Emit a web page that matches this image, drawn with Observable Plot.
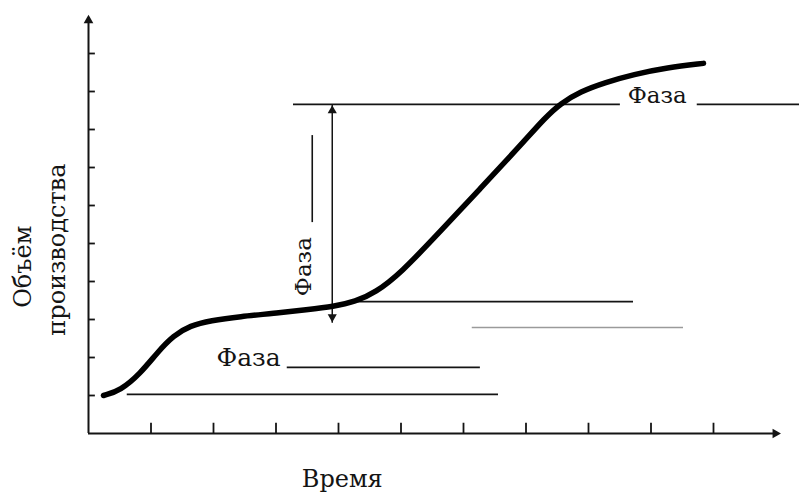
<!DOCTYPE html>
<html>
<head>
<meta charset="utf-8">
<script src="https://cdn.jsdelivr.net/npm/d3@7"></script>
<script src="https://cdn.jsdelivr.net/npm/@observablehq/plot@0.6"></script>
<style>
  html, body { margin: 0; padding: 0; background: #ffffff; }
  #chart svg { display: block; }
</style>
</head>
<body>
<div id="chart"></div>
<script>
// ---- data ----
const curveTime   = [0.24, 0.51, 0.83, 1.10, 1.36, 1.63, 1.95, 2.43, 2.96, 3.50, 3.92, 4.27, 4.59, 4.99, 5.63, 6.27, 6.91, 7.31, 7.55, 7.87, 8.27, 8.72, 9.26, 9.84];
const curveVolume = [1.00, 1.13, 1.58, 2.13, 2.58, 2.84, 2.97, 3.08, 3.16, 3.26, 3.34, 3.47, 3.71, 4.21, 5.32, 6.45, 7.58, 8.32, 8.68, 9.00, 9.24, 9.45, 9.63, 9.74];

// phase guide lines: level, start, end
const phaseLevel = [8.66, 8.66, 3.47, 1.74, 1.03];
const phaseStart = [3.28, 9.74, 4.27, 3.18, 0.62];
const phaseEnd   = [8.51, 11.38, 8.72, 6.27, 6.56];
const grayLevel = [2.79];
const grayStart = [6.14];
const grayEnd   = [9.52];

const xTicks = [1, 2, 3, 4, 5, 6, 7, 8, 9, 10];
const yTicks = [1, 2, 3, 4, 5, 6, 7, 8, 9, 10];

const phaseLabel = "Фаза";
const yLabelLines = ["Объём", "производства"];
const xLabel = "Время";

// ---- tables built from arrays ----
const curve = curveTime.map((t, i) => ({t, v: curveVolume[i]}));
const phases = phaseLevel.map((y, i) => ({y, x1: phaseStart[i], x2: phaseEnd[i]}));
const grays = grayLevel.map((y, i) => ({y, x1: grayStart[i], x2: grayEnd[i]}));

// annotation placement (data units)
const arrowX = 3.90, arrowTop = 8.66, arrowBottom = 2.90;
const ink = "#141414";
const font = "'DejaVu Serif', 'Liberation Serif', serif";

const chart = Plot.plot({
  width: 799,
  height: 493,
  margin: 0,
  style: {background: "#ffffff", fontFamily: font, overflow: "visible"},
  x: {domain: [0, 11], range: [88, 88 + 11 * 62.5], axis: null},
  y: {domain: [0, 11], range: [433, 433 - 11 * 38], axis: null},
  marks: [
    // axes lines
    Plot.ruleY([0], {x1: 0, x2: 10.98, stroke: ink, strokeWidth: 2}),
    Plot.ruleX([0], {y1: 0, y2: 10.9, stroke: ink, strokeWidth: 2}),
    Plot.dot([{x: 10.99, y: 0}], {x: "x", y: "y", symbol: "triangle", r: 3.6, rotate: 90, fill: ink, stroke: "none"}),
    Plot.dot([{x: 0, y: 10.87}], {x: "x", y: "y", symbol: "triangle", r: 3.6, fill: ink, stroke: "none"}),
    // ticks
    Plot.ruleX(xTicks, {x: d => d, y1: 0, y2: 0.27, stroke: ink, strokeWidth: 1.8}),
    Plot.ruleY(yTicks, {y: d => d, x1: 0, x2: 0.11, stroke: ink, strokeWidth: 1.8}),
    // phase guide lines
    Plot.ruleY(phases, {y: "y", x1: "x1", x2: "x2", stroke: ink, strokeWidth: 1.6}),
    Plot.ruleY(grays, {y: "y", x1: "x1", x2: "x2", stroke: "#9a9a9a", strokeWidth: 1.3}),
    // double arrow
    Plot.ruleX([arrowX], {y1: arrowTop, y2: arrowBottom, stroke: ink, strokeWidth: 1.5}),
    Plot.dot([{x: arrowX, y: 8.50}], {x: "x", y: "y", symbol: "triangle", r: 3.4, fill: ink, stroke: "none"}),
    Plot.dot([{x: arrowX, y: 3.07}], {x: "x", y: "y", symbol: "triangle", r: 3.4, rotate: 180, fill: ink, stroke: "none"}),
    // rotated phase label dash
    Plot.ruleX([3.58], {y1: 7.84, y2: 5.55, stroke: ink, strokeWidth: 1.6}),
    // growth curve
    Plot.line(curve, {x: "t", y: "v", curve: "basis", stroke: "#000", strokeWidth: 5.5, strokeLinecap: "round", strokeLinejoin: "round"}),
    // labels
    Plot.text([phaseLabel], {x: 2.56, y: 2.0, text: d => d, fontSize: 25, fontFamily: font, fill: ink}),
    Plot.text([phaseLabel], {x: 9.10, y: 8.90, text: d => d, fontSize: 23, fontFamily: font, fill: ink}),
    Plot.text([phaseLabel], {x: 3.44, y: 4.39, text: d => d, fontSize: 23, fontFamily: font, rotate: -90, fill: ink}),
    Plot.text([yLabelLines[0]], {x: -1.04, y: 4.39, text: d => d, fontSize: 24, fontFamily: font, rotate: -90, fill: ink}),
    Plot.text([yLabelLines[1]], {x: -0.50, y: 4.84, text: d => d, fontSize: 24, fontFamily: font, rotate: -90, fill: ink}),
    Plot.text([xLabel], {x: 4.06, y: -1.21, text: d => d, fontSize: 24, fontFamily: font, fill: ink})
  ]
});
document.getElementById("chart").appendChild(chart);
</script>
</body>
</html>
